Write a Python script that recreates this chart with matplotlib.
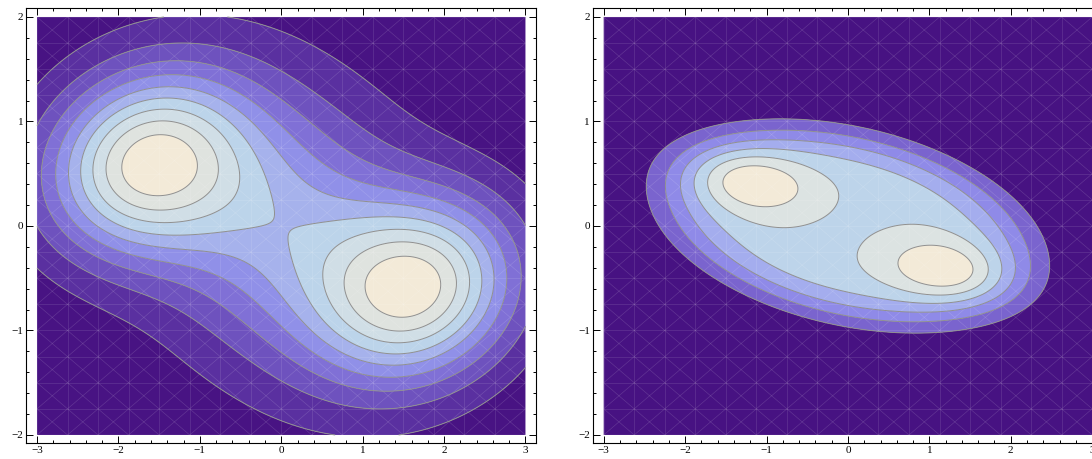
import numpy as np
import matplotlib
matplotlib.use("Agg")
import matplotlib.pyplot as plt
from matplotlib.ticker import MultipleLocator
from matplotlib.collections import LineCollection

# ---------------- data (density parameters) ----------------
# Left panel: two peaks, a central component and a broad low component
left_cx = [-1.7, 1.7, 0.0, 0.0]
left_cy = [0.6, -0.6, 0.0, 0.0]
left_w = [1.0, 1.0, 0.55, 0.08]
left_smaj = [0.85, 0.85, 1.2, 1.7]
left_smin = [0.58, 0.58, 0.85, 1.7]
left_ang = [10.0, 10.0, -22.0, 0.0]
left_levels = [0.1, 0.2, 0.3, 0.4, 0.5, 0.6, 0.7, 0.8, 0.9]
left_colors = ["#481383", "#5A30A0", "#6E52BE", "#8070D6", "#9090E8",
               "#A6B2EC", "#BCD4EA", "#D0DEE6", "#DFE3DF", "#F3EAD8"]

# Right panel: flat-topped plateau with steep edges plus two peaks
right_plateau_cx = [0.0]
right_plateau_cy = [0.0]
right_plateau_smaj = [1.6]
right_plateau_smin = [0.62]
right_plateau_ang = [-9.0]
right_plateau_height = 0.66
right_plateau_pow = 2.5
right_peak_cx = [-1.22, 1.22]
right_peak_cy = [0.43, -0.43]
right_peak_smaj = [0.52, 0.52]
right_peak_smin = [0.21, 0.21]
right_peak_ang = [-6.0, -6.0]
right_peak_w = [0.36, 0.36]
right_levels = [1 / 7, 2 / 7, 3 / 7, 4 / 7, 5 / 7, 6 / 7]
right_colors = ["#471282", "#7A64CE", "#8F8AE8", "#A4ADEE",
                "#BDD4EA", "#DCE3E2", "#F3EAD8"]

x_ticks = [-3, -2, -1, 0, 1, 2, 3]
y_ticks = [-2, -1, 0, 1, 2]


def quad(X, Y, a, b, s1, s2, t):
    th = np.deg2rad(t)
    u = (X - a) * np.cos(th) + (Y - b) * np.sin(th)
    v = -(X - a) * np.sin(th) + (Y - b) * np.cos(th)
    return 0.5 * ((u / s1) ** 2 + (v / s2) ** 2)


xs = np.linspace(-3, 3, 601)
ys = np.linspace(-2, 2, 401)
X, Y = np.meshgrid(xs, ys)

# left field
ZL = np.zeros_like(X)
for a, b, w, s1, s2, t in zip(left_cx, left_cy, left_w, left_smaj, left_smin, left_ang):
    ZL += w * np.exp(-quad(X, Y, a, b, s1, s2, t))
ZL /= ZL.max()

# right field
keep = np.ones_like(X)
for a, b, s1, s2, t in zip(right_plateau_cx, right_plateau_cy, right_plateau_smaj,
                           right_plateau_smin, right_plateau_ang):
    keep *= 1 - np.exp(-quad(X, Y, a, b, s1, s2, t) ** right_plateau_pow)
ZR = right_plateau_height * (1 - keep)
for a, b, s1, s2, t, w in zip(right_peak_cx, right_peak_cy, right_peak_smaj,
                              right_peak_smin, right_peak_ang, right_peak_w):
    ZR += w * np.exp(-quad(X, Y, a, b, s1, s2, t))
ZR /= ZR.max()

fig = plt.figure(figsize=(10.92, 4.59), dpi=100)
W, H = 1092.0, 459.0
ax1 = fig.add_axes([26 / W, 16 / H, 510 / W, 435 / H])
ax2 = fig.add_axes([592.7 / W, 16 / H, 510 / W, 435 / H])


def mesh(ax, n=16):
    gx = np.linspace(-3, 3, n + 1)
    gy = np.linspace(-2, 2, n + 1)
    segs = []
    for x in gx:
        segs.append([(x, -2), (x, 2)])
    for y in gy:
        segs.append([(-3, y), (3, y)])
    for sgn in (1, -1):
        for k in range(-n, n + 1):
            pts = []
            for i in range(n + 1):
                j = (i - k) if sgn == 1 else (n - i - k)
                if 0 <= j <= n:
                    pts.append((gx[i], gy[j]))
            if len(pts) > 1:
                segs.append([pts[0], pts[-1]])
    lc = LineCollection(segs, colors="white", linewidths=0.5, alpha=0.14, zorder=3)
    ax.add_collection(lc)


for ax, Z, lev, cols in [(ax1, ZL, left_levels, left_colors),
                         (ax2, ZR, right_levels, right_colors)]:
    full = [-0.01] + list(lev) + [1.01]
    ax.contourf(X, Y, Z, levels=full, colors=cols, antialiased=True, zorder=1)
    mesh(ax)
    ax.contour(X, Y, Z, levels=lev, colors="#8f8f8f", linewidths=0.7, zorder=4)
    ax.set_xlim(-3.135, 3.129)
    ax.set_ylim(-2.077, 2.086)
    ax.set_xticks(x_ticks)
    ax.set_yticks(y_ticks)
    ax.xaxis.set_minor_locator(MultipleLocator(0.2))
    ax.yaxis.set_minor_locator(MultipleLocator(0.2))
    ax.tick_params(which="both", direction="in", top=True, right=True,
                   width=0.7, colors="black", labelsize=8, pad=2)
    ax.tick_params(which="major", length=5)
    ax.tick_params(which="minor", length=2.5)
    for lab in ax.get_xticklabels() + ax.get_yticklabels():
        lab.set_fontfamily("Liberation Serif")
    for sp in ax.spines.values():
        sp.set_linewidth(0.8)
        sp.set_zorder(6)

fig.savefig("out.png", dpi=100)
